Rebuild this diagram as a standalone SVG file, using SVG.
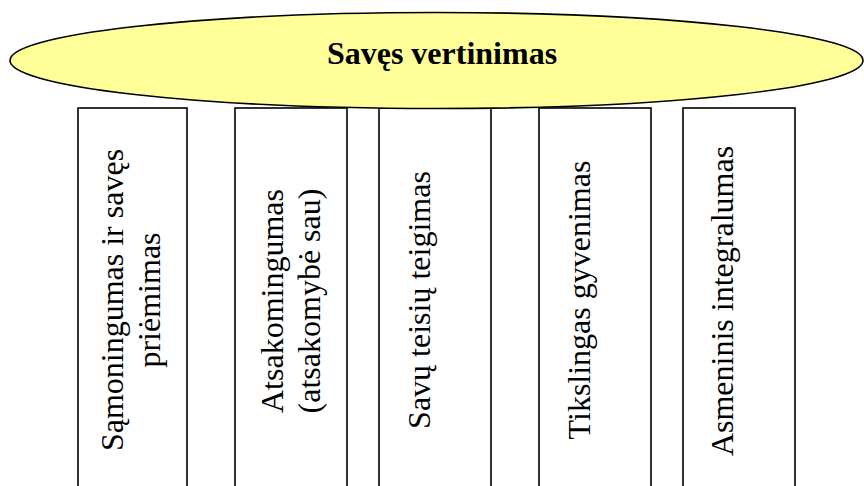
<svg xmlns="http://www.w3.org/2000/svg" width="864" height="486" viewBox="0 0 864 486">
<style>
.box{fill:#ffffff;stroke:#000000;stroke-width:1.6}
.lbl{font-family:"Liberation Serif","Times New Roman",serif;font-size:32px;fill:#000000;text-anchor:middle}
.title{font-family:"Liberation Serif","Times New Roman",serif;font-size:32px;font-weight:bold;fill:#000000;text-anchor:middle}
</style>
<rect width="864" height="486" fill="#ffffff"/>
<g id="connectors"></g>
<g id="node-b1">
<rect class="box" x="78" y="108" width="109" height="400"/>
<text class="lbl" transform="translate(123,300) rotate(-90)">Sąmoningumas ir savęs</text>
<text class="lbl" transform="translate(160,300) rotate(-90)">priėmimas</text>
</g>
<g id="node-b2">
<rect class="box" x="235" y="108" width="112" height="400"/>
<text class="lbl" transform="translate(283,301) rotate(-90)">Atsakomingumas</text>
<text class="lbl" transform="translate(320,301) rotate(-90)">(atsakomybė sau)</text>
</g>
<g id="node-b3">
<rect class="box" x="379" y="108" width="112" height="400"/>
<text class="lbl" transform="translate(430,300) rotate(-90)">Savų teisių teigimas</text>
</g>
<g id="node-b4">
<rect class="box" x="539" y="108" width="112" height="400"/>
<text class="lbl" transform="translate(590,300) rotate(-90)">Tikslingas gyvenimas</text>
</g>
<g id="node-b5">
<rect class="box" x="683" y="108" width="112" height="400"/>
<text class="lbl" transform="translate(733,301) rotate(-90)">Asmeninis integralumas</text>
</g>
<g id="node-top">
<ellipse cx="436.5" cy="60.5" rx="426.5" ry="48" fill="#ffff99" stroke="#000000" stroke-width="1.6"/>
<text class="title" x="442" y="64">Savęs vertinimas</text>
</g>
</svg>
